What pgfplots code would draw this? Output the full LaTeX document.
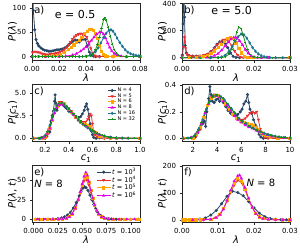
\documentclass[border=0pt]{standalone}
\usepackage{fontspec}
\setmainfont{DejaVu Sans}
\usepackage{pgfplots}
\pgfplotsset{compat=1.18}
\definecolor{cA}{RGB}{40,70,100}
\definecolor{cB}{RGB}{230,50,50}
\definecolor{cC}{RGB}{255,165,0}
\definecolor{cD}{RGB}{230,0,230}
\definecolor{cE}{RGB}{30,115,145}
\definecolor{cF}{RGB}{20,145,20}
\tikzset{lab/.style={font=\fontsize{10}{10}\selectfont, inner sep=1pt}}
\pgfplotsset{
  panel/.style={
    scale only axis, width=108pt, height=57pt,
    anchor=south west,
    axis line style={black!85, line width=0.5pt},
    tick align=outside, xtick pos=bottom, ytick pos=left,
    major tick length=2.5pt,
    every tick/.style={black!85, line width=0.5pt},
    tick label style={font=\fontsize{7}{8}\selectfont},
    label style={font=\fontsize{10}{12}\selectfont},
    every axis y label/.style={at={(axis description cs:-0.18,0.5)}, rotate=90, anchor=center},
    every axis x label/.style={at={(axis description cs:0.5,-0.31)}, anchor=center},
    every axis plot/.append style={line width=0.8pt, mark size=1.1pt},
    scaled ticks=false,
    clip=true,
    legend cell align=left,
    legend image code/.code={\draw[mark repeat=2,mark phase=2] plot coordinates {(0pt,0pt)(4pt,0pt)(8pt,0pt)};},
  },
  s4/.style={cA, mark=*},
  s5/.style={cB, mark=triangle*, mark options={rotate=180}},
  s6/.style={cC, mark=square*},
  s8/.style={cD, mark=triangle*},
  s16/.style={cE, mark=diamond*},
  s32/.style={cF, mark=+},
}
\begin{document}
\begin{tikzpicture}
\path[use as bounding box] (0,0) rectangle (300pt,250pt);
% ---------------- (a)
\begin{axis}[panel, at={(32pt,190pt)},
  xmin=0, xmax=0.08, ymin=-7, ymax=110,
  xtick={0,0.02,0.04,0.06,0.08}, xticklabels={0.00,0.02,0.04,0.06,0.08},
  ytick={0,50,100}, yticklabels={0,50,100},
  xlabel={\textit{λ}}, ylabel={\textit{P}(\textit{λ})}]
\addplot[s4] coordinates {(0.0003,150) (0.001,95) (0.002,55) (0.003,35) (0.004,27) (0.005,22) (0.0065,18) (0.008,15) (0.0095,13) (0.011,12) (0.0125,11) (0.014,11) (0.0155,12) (0.017,13) (0.0185,14) (0.02,14) (0.0215,15) (0.023,16) (0.0245,18) (0.026,21) (0.0275,25) (0.029,29) (0.0305,32) (0.032,34) (0.0335,33) (0.035,30) (0.0365,34) (0.038,36) (0.0395,35) (0.041,22) (0.0425,9) (0.044,3) (0.0455,1) (0.047,0) (0.05,0) (0.055,0) (0.06,0) (0.07,0) (0.08,0)};
\addplot[s5] coordinates {(0.0003,9) (0.0015,10) (0.003,10) (0.0045,9) (0.006,8) (0.0075,6) (0.009,5) (0.0105,4) (0.012,4) (0.0135,5) (0.015,5) (0.0165,6) (0.018,7) (0.0195,8) (0.021,10) (0.0225,12) (0.024,15) (0.0255,19) (0.027,24) (0.0285,30) (0.03,36) (0.0315,41) (0.033,44) (0.0345,46) (0.036,47) (0.0375,46) (0.039,45) (0.0405,40) (0.042,30) (0.0435,17) (0.045,7) (0.0465,2) (0.048,0.5) (0.05,0) (0.06,0) (0.08,0)};
\addplot[s6] coordinates {(0,0) (0.005,0) (0.01,0.5) (0.015,1.5) (0.018,3) (0.021,5) (0.024,9) (0.027,14) (0.029,19) (0.031,24) (0.033,29) (0.035,34) (0.037,40) (0.039,47) (0.041,52) (0.0425,55) (0.044,55) (0.0455,53) (0.047,48) (0.0485,38) (0.05,22) (0.0515,10) (0.053,4) (0.0545,1.5) (0.056,0.5) (0.06,0) (0.08,0)};
\addplot[s8] coordinates {(0,0) (0.01,0) (0.02,0) (0.025,1) (0.03,3) (0.033,6) (0.036,11) (0.038,15) (0.04,20) (0.042,26) (0.044,33) (0.046,40) (0.048,46) (0.05,50) (0.0515,50) (0.053,46) (0.0545,38) (0.056,28) (0.0575,19) (0.059,12) (0.061,6) (0.063,3) (0.066,1) (0.07,0) (0.08,0)};
\addplot[s16] coordinates {(0,0) (0.035,0) (0.04,1) (0.043,3) (0.045,5) (0.047,10) (0.049,18) (0.051,28) (0.053,39) (0.055,48) (0.057,54) (0.0585,55) (0.06,52) (0.0615,46) (0.063,38) (0.065,29) (0.067,21) (0.069,14) (0.071,9) (0.073,6) (0.075,4) (0.077,2.5) (0.079,1.5) (0.08,1)};
\addplot[s32] coordinates {(0,0) (0.0025,0) (0.005,0) (0.0075,0) (0.01,0) (0.0125,0) (0.015,0) (0.0175,0) (0.02,0) (0.0225,0) (0.025,0) (0.0275,0) (0.03,0) (0.0325,0) (0.035,0) (0.0375,0) (0.04,0) (0.043,2) (0.045,6) (0.047,14) (0.0485,25) (0.05,40) (0.0515,58) (0.053,76) (0.054,80) (0.055,74) (0.0565,60) (0.058,42) (0.0595,26) (0.061,14) (0.0625,7) (0.064,3) (0.066,1) (0.07,0) (0.075,0) (0.08,0)};
\node[lab, anchor=north west] at (rel axis cs:0.01,0.97) {a)};
\node[font=\fontsize{11}{11}\selectfont] at (rel axis cs:0.40,0.79) {e = 0.5};
\end{axis}
% ---------------- (b)
\begin{axis}[panel, at={(182pt,190pt)},
  xmin=0, xmax=0.03, ymin=-17, ymax=405,
  xtick={0,0.01,0.02,0.03}, xticklabels={0.00,0.01,0.02,0.03},
  ytick={0,200,400}, yticklabels={0,200,400},
  xlabel={\textit{λ}}, ylabel={\textit{P}(\textit{λ})}]
\addplot[s4] coordinates {(0.0001,20) (0.0003,250) (0.0005,480) (0.0007,300) (0.0009,90) (0.0012,35) (0.0016,20) (0.002,15) (0.003,12) (0.004,12) (0.005,13) (0.006,16) (0.007,25) (0.008,45) (0.009,75) (0.0097,100) (0.0105,118) (0.0112,120) (0.012,105) (0.0127,75) (0.0135,35) (0.0142,10) (0.015,2) (0.016,0) (0.02,0) (0.03,0)};
\addplot[s5] coordinates {(0.0001,10) (0.0004,80) (0.0007,150) (0.001,70) (0.0013,30) (0.0017,18) (0.0022,13) (0.003,11) (0.004,11) (0.005,13) (0.006,17) (0.007,27) (0.008,45) (0.009,70) (0.0098,95) (0.0106,118) (0.0114,132) (0.0122,135) (0.013,120) (0.0138,90) (0.0146,50) (0.0154,20) (0.0162,6) (0.017,1) (0.018,0) (0.03,0)};
\addplot[s6] coordinates {(0,0) (0.002,1) (0.004,3) (0.005,6) (0.006,10) (0.007,18) (0.008,30) (0.009,50) (0.01,75) (0.011,100) (0.0118,122) (0.0126,140) (0.0134,148) (0.0142,140) (0.015,110) (0.0158,70) (0.0166,35) (0.0174,12) (0.0182,4) (0.019,1) (0.02,0) (0.03,0)};
\addplot[s8] coordinates {(0,0) (0.005,0.5) (0.007,2) (0.008,6) (0.009,15) (0.01,30) (0.011,55) (0.012,88) (0.0128,115) (0.0136,138) (0.0144,150) (0.0152,145) (0.016,125) (0.0168,95) (0.0176,60) (0.0184,32) (0.0192,14) (0.02,6) (0.021,2) (0.022,0.5) (0.024,0) (0.03,0)};
\addplot[s16] coordinates {(0,0) (0.008,0) (0.01,2) (0.011,6) (0.012,18) (0.013,45) (0.014,85) (0.0148,120) (0.0156,155) (0.0164,175) (0.0172,170) (0.018,145) (0.0188,110) (0.0196,75) (0.0204,48) (0.0212,28) (0.022,15) (0.0228,8) (0.0236,4) (0.0244,2) (0.026,0.5) (0.028,0) (0.03,0)};
\addplot[s32] coordinates {(0,0) (0.0025,0) (0.005,0) (0.0075,0) (0.01,0) (0.011,1) (0.012,6) (0.013,25) (0.0138,65) (0.0146,130) (0.0152,190) (0.0158,228) (0.0164,215) (0.017,165) (0.0176,110) (0.0182,60) (0.0188,28) (0.0194,12) (0.02,5) (0.021,1) (0.022,0) (0.025,0) (0.03,0)};
\node[lab, anchor=north west] at (rel axis cs:0.01,0.97) {b)};
\node[font=\fontsize{11}{11}\selectfont] at (rel axis cs:0.46,0.87) {e = 5.0};
\end{axis}
% ---------------- (c)
\begin{axis}[panel, at={(32pt,109pt)},
  xmin=0.09, xmax=1.0, ymin=-0.3, ymax=6.0,
  xtick={0.2,0.4,0.6,0.8,1.0}, xticklabels={0.2,0.4,0.6,0.8,1.0},
  ytick={0,2.5,5}, yticklabels={0.0,2.5,5.0},
  xlabel={\textit{c}\textsubscript{1}}, ylabel={\textit{P}(\textit{c}\textsubscript{1})},
  legend style={at={(axis description cs:0.97,0.96)}, anchor=north east, draw=none, fill=none,
    font=\fontsize{5}{5}\selectfont, row sep=-1.5pt, inner sep=0.5pt,
    nodes={inner sep=1pt}}]
\addplot[s4] coordinates {(0.1,0) (0.15,0) (0.2,0) (0.215,0.2) (0.225,0.6) (0.235,1.1) (0.24,0.7) (0.25,1.9) (0.26,2.5) (0.27,3.0) (0.28,4.1) (0.285,4.8) (0.29,3.9) (0.3,3.1) (0.31,3.5) (0.32,3.8) (0.335,3.9) (0.35,3.7) (0.365,3.5) (0.38,3.3) (0.4,3.0) (0.42,2.8) (0.44,2.6) (0.46,2.4) (0.48,2.3) (0.5,2.4) (0.515,2.7) (0.53,3.1) (0.54,3.5) (0.55,3.8) (0.56,3.2) (0.57,2.4) (0.58,1.6) (0.59,0.8) (0.6,0.4) (0.61,0.1) (0.63,0) (0.7,0) (1.0,0)};
\addplot[s5] coordinates {(0.1,0) (0.2,0.05) (0.22,0.4) (0.24,1.0) (0.26,2.0) (0.28,3.0) (0.3,3.7) (0.32,4.0) (0.34,4.0) (0.36,3.8) (0.38,3.6) (0.4,3.3) (0.42,3.0) (0.44,2.7) (0.46,2.4) (0.48,2.1) (0.5,1.9) (0.52,1.8) (0.54,1.8) (0.56,2.1) (0.57,2.4) (0.58,2.7) (0.59,2.5) (0.6,1.6) (0.61,0.8) (0.62,0.4) (0.64,0.15) (0.66,0.05) (0.7,0) (1.0,0)};
\addplot[s6] coordinates {(0.1,0) (0.18,0.02) (0.2,0.1) (0.22,0.5) (0.24,1.1) (0.26,2.0) (0.28,2.9) (0.3,3.5) (0.32,3.8) (0.34,3.9) (0.36,3.8) (0.38,3.5) (0.4,3.2) (0.42,2.9) (0.44,2.6) (0.46,2.3) (0.48,2.0) (0.5,1.8) (0.52,1.6) (0.54,1.5) (0.56,1.45) (0.58,1.3) (0.6,1.0) (0.62,0.65) (0.64,0.4) (0.66,0.25) (0.7,0.1) (0.75,0.03) (0.8,0) (1.0,0)};
\addplot[s8] coordinates {(0.1,0) (0.18,0.03) (0.2,0.12) (0.22,0.5) (0.24,1.1) (0.26,2.0) (0.28,2.8) (0.3,3.4) (0.32,3.7) (0.34,3.75) (0.36,3.65) (0.38,3.45) (0.4,3.2) (0.42,2.9) (0.44,2.6) (0.46,2.3) (0.48,2.0) (0.5,1.8) (0.52,1.6) (0.54,1.4) (0.56,1.2) (0.58,1.0) (0.6,0.85) (0.62,0.65) (0.64,0.5) (0.66,0.38) (0.7,0.2) (0.75,0.08) (0.8,0.03) (0.85,0.01) (0.9,0) (1.0,0)};
\addplot[s16] coordinates {(0.1,0) (0.16,0.02) (0.2,0.3) (0.22,0.7) (0.24,1.4) (0.26,2.3) (0.28,3.1) (0.3,3.6) (0.32,3.85) (0.34,3.9) (0.36,3.75) (0.38,3.5) (0.4,3.25) (0.42,2.95) (0.44,2.65) (0.46,2.35) (0.48,2.05) (0.5,1.8) (0.52,1.55) (0.54,1.35) (0.56,1.15) (0.58,0.97) (0.6,0.82) (0.62,0.67) (0.64,0.53) (0.66,0.42) (0.7,0.25) (0.75,0.12) (0.8,0.05) (0.85,0.02) (0.9,0.01) (1.0,0)};
\addplot[s32] coordinates {(0.1,0) (0.14,0.01) (0.17,0.08) (0.2,0.35) (0.22,0.8) (0.24,1.5) (0.26,2.4) (0.28,3.2) (0.3,3.65) (0.32,3.9) (0.34,3.95) (0.36,3.8) (0.38,3.55) (0.4,3.3) (0.42,3.0) (0.44,2.7) (0.46,2.4) (0.48,2.1) (0.5,1.85) (0.52,1.6) (0.54,1.4) (0.56,1.2) (0.58,1.02) (0.6,0.86) (0.62,0.7) (0.64,0.56) (0.66,0.44) (0.68,0.35) (0.7,0.27) (0.73,0.18) (0.76,0.12) (0.8,0.07) (0.85,0.03) (0.9,0.01) (0.95,0.005) (1.0,0)};
\legend{N = 4, N = 5, N = 6, N = 8, N = 16, N = 32}
\node[lab, anchor=north west] at (rel axis cs:0.01,0.97) {c)};
\end{axis}
% ---------------- (d)
\begin{axis}[panel, at={(182pt,109pt)},
  xmin=1.1, xmax=10, ymin=-0.02, ymax=0.41,
  xtick={2,4,6,8,10}, xticklabels={2,4,6,8,10},
  ytick={0,0.2,0.4}, yticklabels={0.0,0.2,0.4},
  xlabel={\textit{c}\textsubscript{1}}, ylabel={\textit{P}(\textit{c}\textsubscript{1})}]
\addplot[s4] coordinates {(1.2,0) (2.0,0) (2.2,0.01) (2.4,0.04) (2.6,0.07) (2.8,0.11) (2.95,0.13) (3.05,0.09) (3.15,0.2) (3.3,0.3) (3.4,0.39) (3.5,0.33) (3.6,0.28) (3.75,0.27) (3.9,0.29) (4.05,0.3) (4.2,0.28) (4.35,0.3) (4.5,0.27) (4.7,0.24) (4.9,0.21) (5.1,0.19) (5.3,0.18) (5.5,0.17) (5.7,0.18) (5.9,0.2) (6.05,0.22) (6.2,0.26) (6.35,0.28) (6.5,0.33) (6.6,0.27) (6.7,0.22) (6.85,0.19) (7.0,0.14) (7.15,0.1) (7.3,0.06) (7.45,0.03) (7.6,0.01) (7.8,0) (10,0)};
\addplot[s5] coordinates {(1.2,0) (2.0,0) (2.3,0.02) (2.6,0.07) (2.9,0.15) (3.2,0.25) (3.5,0.31) (3.8,0.33) (4.1,0.32) (4.4,0.29) (4.7,0.25) (5.0,0.22) (5.3,0.18) (5.6,0.15) (5.9,0.14) (6.1,0.14) (6.3,0.15) (6.5,0.17) (6.7,0.19) (6.9,0.2) (7.1,0.19) (7.25,0.2) (7.4,0.14) (7.55,0.07) (7.7,0.03) (7.9,0.01) (8.2,0) (10,0)};
\addplot[s6] coordinates {(1.2,0) (2.0,0.003) (2.3,0.03) (2.6,0.08) (2.9,0.16) (3.2,0.25) (3.5,0.3) (3.8,0.32) (4.1,0.32) (4.4,0.29) (4.7,0.26) (5.0,0.22) (5.3,0.18) (5.6,0.15) (5.9,0.13) (6.2,0.12) (6.5,0.11) (6.8,0.105) (7.0,0.1) (7.2,0.085) (7.4,0.065) (7.6,0.045) (7.8,0.03) (8.0,0.02) (8.4,0.01) (9,0.003) (10,0)};
\addplot[s8] coordinates {(1.2,0) (1.8,0.003) (2.1,0.015) (2.4,0.045) (2.7,0.11) (3.0,0.19) (3.3,0.26) (3.6,0.31) (3.9,0.32) (4.2,0.31) (4.5,0.28) (4.8,0.25) (5.1,0.21) (5.4,0.17) (5.7,0.14) (6.0,0.12) (6.3,0.1) (6.6,0.085) (6.9,0.075) (7.2,0.06) (7.5,0.05) (7.8,0.035) (8.1,0.025) (8.5,0.015) (9,0.008) (9.5,0.003) (10,0.001)};
\addplot[s16] coordinates {(1.2,0) (1.6,0.002) (1.9,0.008) (2.2,0.03) (2.5,0.075) (2.8,0.14) (3.1,0.22) (3.4,0.28) (3.7,0.32) (4.0,0.325) (4.3,0.315) (4.6,0.29) (4.9,0.255) (5.2,0.22) (5.5,0.185) (5.8,0.15) (6.1,0.128) (6.4,0.11) (6.7,0.09) (7.0,0.076) (7.3,0.062) (7.6,0.05) (7.9,0.038) (8.2,0.029) (8.5,0.021) (8.8,0.015) (9.1,0.011) (9.5,0.007) (10,0.003)};
\addplot[s32] coordinates {(1.2,0) (1.5,0) (1.8,0.004) (2.1,0.02) (2.4,0.06) (2.7,0.12) (3.0,0.2) (3.3,0.27) (3.6,0.315) (3.9,0.33) (4.2,0.32) (4.5,0.3) (4.8,0.265) (5.1,0.23) (5.4,0.195) (5.7,0.16) (6.0,0.135) (6.3,0.115) (6.6,0.095) (6.9,0.08) (7.2,0.065) (7.5,0.053) (7.8,0.042) (8.1,0.032) (8.4,0.024) (8.7,0.018) (9.0,0.013) (9.3,0.009) (9.6,0.006) (10,0.003)};
\node[lab, anchor=north west] at (rel axis cs:0.01,0.97) {d)};
\end{axis}
% ---------------- (e)
\begin{axis}[panel, at={(32pt,28pt)},
  xmin=-0.0015, xmax=0.1095, ymin=-3.5, ymax=69.5,
  xtick={0,0.025,0.05,0.075,0.1}, xticklabels={0.000,0.025,0.050,0.075,0.100},
  ytick={0,25,50}, yticklabels={0,25,50},
  xlabel={\textit{λ}}, ylabel={\textit{P}(\textit{λ}, \textit{t})},
  legend style={at={(axis description cs:0.98,0.97)}, anchor=north east, draw=none, fill=none,
    font=\fontsize{6.5}{6.5}\selectfont, row sep=-1.5pt, inner sep=0.5pt,
    nodes={inner sep=1pt}},
  legend image code/.code={\draw[mark repeat=2,mark phase=2] plot coordinates {(0pt,0pt)(7pt,0pt)(14pt,0pt)};}]
\addplot[s4] coordinates {(0.002,0) (0.006,0) (0.01,0) (0.015,0.1) (0.02,0.3) (0.025,0.8) (0.029,1.8) (0.032,3.2) (0.035,5.5) (0.038,9) (0.041,14.5) (0.044,21.5) (0.047,30) (0.049,36) (0.051,40) (0.0525,41.5) (0.054,40.5) (0.056,37) (0.058,31) (0.06,25) (0.062,19) (0.064,13.5) (0.066,9) (0.069,5) (0.072,2.5) (0.076,1) (0.08,0.4) (0.085,0.1) (0.09,0) (0.1,0) (0.108,0)};
\addplot[s5] coordinates {(0.002,0) (0.006,0) (0.01,0) (0.014,0) (0.018,0) (0.022,0.1) (0.026,0.2) (0.03,0.6) (0.034,1.8) (0.037,4) (0.04,8) (0.043,15) (0.046,25) (0.048,33) (0.05,42) (0.052,49) (0.0535,52) (0.055,50) (0.057,44) (0.059,35) (0.061,26) (0.063,18) (0.065,11.5) (0.067,7) (0.07,3.5) (0.073,1.5) (0.077,0.5) (0.082,0.1) (0.09,0) (0.1,0) (0.108,0)};
\addplot[s6] coordinates {(0.002,0) (0.008,0) (0.014,0) (0.02,0) (0.026,0.1) (0.03,0.3) (0.034,1.3) (0.037,3.2) (0.04,7) (0.043,14) (0.046,25) (0.048,34) (0.05,44) (0.052,53) (0.0538,57) (0.0555,54) (0.057,47) (0.059,37) (0.061,27) (0.063,18) (0.065,11) (0.067,6.5) (0.07,3) (0.073,1.2) (0.077,0.4) (0.082,0.1) (0.088,0) (0.094,0) (0.1,0) (0.106,0) (0.109,0)};
\addplot[s8] coordinates {(0.004,0) (0.012,0) (0.02,0) (0.026,0.1) (0.03,0.3) (0.034,1.2) (0.037,3) (0.04,7) (0.043,14) (0.046,25) (0.048,35) (0.05,45) (0.052,55) (0.0538,60) (0.0555,56) (0.057,48) (0.059,37) (0.061,27) (0.063,18) (0.065,11) (0.067,6.5) (0.07,3) (0.073,1.2) (0.077,0.4) (0.082,0.1) (0.088,0) (0.096,0) (0.104,0)};
\legend{\textit{t} = 10\textsuperscript{3}, \textit{t} = 10\textsuperscript{4}, \textit{t} = 10\textsuperscript{5}, \textit{t} = 10\textsuperscript{6}}
\node[lab, anchor=north west] at (rel axis cs:0.01,0.97) {e)};
\node[lab, anchor=north west] at (rel axis cs:0.01,0.76) {\textit{N} = 8};
\end{axis}
% ---------------- (f)
\begin{axis}[panel, at={(182pt,28pt)},
  xmin=0, xmax=0.03, ymin=-8, ymax=205,
  xtick={0,0.01,0.02,0.03}, xticklabels={0.00,0.01,0.02,0.03},
  ytick={0,100,200}, yticklabels={0,100,200},
  xlabel={\textit{λ}}, ylabel={\textit{P}(\textit{λ}, \textit{t})}]
\addplot[s4] coordinates {(0.0005,0) (0.002,0.3) (0.0035,1) (0.005,3) (0.0065,7) (0.008,18) (0.0095,35) (0.011,60) (0.0125,88) (0.014,107) (0.0155,102) (0.017,90) (0.0185,68) (0.02,45) (0.0215,25) (0.023,12) (0.0245,5) (0.026,2) (0.0275,0.8) (0.029,0.3) (0.0305,0.1)};
\addplot[s5] coordinates {(0.0005,0) (0.003,0) (0.006,0.5) (0.008,3) (0.0095,10) (0.0105,22) (0.0115,42) (0.0125,70) (0.0135,102) (0.0145,130) (0.0155,148) (0.0165,140) (0.0175,112) (0.0185,78) (0.0195,48) (0.0205,26) (0.0215,13) (0.0225,6) (0.024,2) (0.026,0.5) (0.028,0.1) (0.03,0)};
\addplot[s6] coordinates {(0,0) (0.001,0) (0.002,0) (0.003,0) (0.004,0) (0.005,0.2) (0.006,0.5) (0.008,2.5) (0.0095,9) (0.0105,21) (0.0115,42) (0.0125,72) (0.0135,106) (0.0145,136) (0.0155,154) (0.0165,145) (0.0175,115) (0.0185,78) (0.0195,46) (0.0205,24) (0.0215,11) (0.0225,5) (0.024,1.5) (0.026,0.4) (0.028,0.1) (0.03,0)};
\addplot[s8] coordinates {(0.003,0) (0.006,0.4) (0.008,2) (0.0095,8) (0.0105,19) (0.0115,40) (0.0125,72) (0.0135,110) (0.0145,145) (0.0155,165) (0.016,167) (0.0165,155) (0.0175,120) (0.0185,80) (0.0195,46) (0.0205,23) (0.0215,10) (0.0225,4.5) (0.024,1.3) (0.026,0.3) (0.028,0.1) (0.03,0)};
\node[lab, anchor=north west] at (rel axis cs:0.01,0.97) {f)};
\node[lab] at (rel axis cs:0.73,0.68) {\textit{N} = 8};
\end{axis}
\end{tikzpicture}
\end{document}
